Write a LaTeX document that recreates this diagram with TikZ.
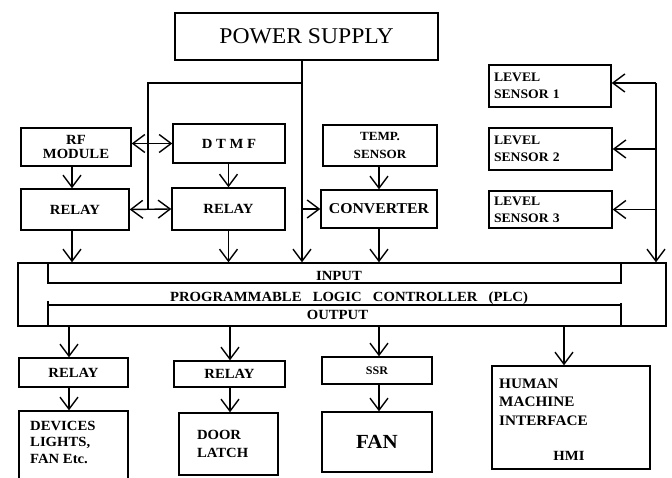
\documentclass[tikz,border=0pt]{standalone}
\usepackage{fontspec}
\setmainfont{Liberation Serif}[FakeStretch=1.05]
\usetikzlibrary{arrows.meta}
\newcommand{\fz}[2]{\fontsize{#1pt}{#2pt}\selectfont}
\newcommand{\wg}{\hspace{0.8em}}
\begin{document}
\begin{tikzpicture}[x=1pt,y=-1pt,
  box/.style={draw,line width=1.4pt,inner sep=0pt,align=center,font=\bfseries\fz{14}{14}},
  ln/.style={line width=1.4pt},
  arr/.style={ln,-{Straight Barb[length=12pt,width=18pt]}},
  dbl/.style={ln,{Straight Barb[length=12pt,width=18pt]}-{Straight Barb[length=12pt,width=18pt]}},
  txt/.style={inner sep=0pt,font=\bfseries\fz{14}{14}}]
\useasboundingbox (0,0) rectangle (672,478);
\fill[white] (0,0) rectangle (672,478);
% boxes
\node[box,minimum width=263pt,minimum height=47pt,font=\fz{22.5}{24}] (ps) at (306.5,36.5) {POWER SUPPLY};
\node[box,minimum width=110pt,minimum height=38pt] (rf) at (76,147) {RF\\MODULE};
\node[box,minimum width=112pt,minimum height=39pt] (dtmf) at (229,143.5) {D T M F};
\node[box,minimum width=108pt,minimum height=41pt] (r1) at (75,209.5) {RELAY};
\node[box,minimum width=113pt,minimum height=42pt] (r2) at (228.5,209) {RELAY};
\node[box,minimum width=114pt,minimum height=41pt,font=\bfseries\fz{12.5}{17.5}] (temp) at (380,145.5) {TEMP.\\SENSOR};
\node[box,minimum width=116pt,minimum height=38pt,font=\bfseries\fz{15}{15}] (conv) at (379,209) {CONVERTER};
\node[box,minimum width=122pt,minimum height=42pt,text width=112pt,align=left,font=\bfseries\fz{13}{17}] (ls1) at (550,86) {LEVEL\\SENSOR 1};
\node[box,minimum width=123pt,minimum height=42pt,text width=113pt,align=left,font=\bfseries\fz{13}{17}] (ls2) at (550.5,149) {LEVEL\\SENSOR 2};
\node[box,minimum width=123pt,minimum height=37pt,text width=113pt,align=left,font=\bfseries\fz{13}{17}] (ls3) at (550.5,209.5) {LEVEL\\SENSOR 3};
\node[box,minimum width=648pt,minimum height=63pt] (plc) at (342,294.5) {};
\node[box,minimum width=109pt,minimum height=29pt] (r3) at (73.5,372.5) {RELAY};
\node[box,minimum width=111pt,minimum height=26pt] (r4) at (229.5,374) {RELAY};
\node[box,minimum width=110pt,minimum height=27pt,font=\bfseries\fz{11.5}{13}] (ssr) at (377,370.5) {SSR};
\node[box,minimum width=109pt,minimum height=73pt] (dev) at (73.5,447.5) {};
\node[box,minimum width=99pt,minimum height=62pt,text width=63pt,align=left,font=\bfseries\fz{14}{18}] (door) at (228.5,444) {DOOR\\LATCH};
\node[box,minimum width=110pt,minimum height=60pt,font=\bfseries\fz{20}{22}] (fan) at (377,442) {FAN};
\node[box,minimum width=158pt,minimum height=103pt] (hmi) at (571,417.5) {};
% texts
\node[txt,anchor=west,align=left,font=\bfseries\fz{14}{16.5}] (devt) at (30,442) {DEVICES\\LIGHTS,\\FAN Etc.};
\node[txt,anchor=west,align=left,font=\bfseries\fz{14.5}{18.5}] (hmit) at (499,402) {HUMAN\\MACHINE\\INTERFACE};
\node[txt,font=\bfseries\fz{14}{16}] (hmil) at (569,456) {HMI};
\node[txt] (inp) at (339,276) {INPUT};
\node[txt] (plct) at (349,298) {PROGRAMMABLE\wg LOGIC\wg CONTROLLER\wg (PLC)};
\node[txt] (outp) at (337.5,315) {OUTPUT};
% PLC inner brackets
\draw[ln] (48,263) -- (48,283) -- (621,283) -- (621,263);
\draw[ln] (48,301) -- (48,327);
\draw[ln] (48,305) -- (621,305);
\draw[ln] (621,303) -- (621,327);
% coordinates
\coordinate (pv) at (302,83);
\coordinate (lt) at (148,83);
\coordinate (lv) at (656,83);
\coordinate (xa) at (72,0);
\coordinate (xo1) at (69,0);
\coordinate (xo2) at (230,0);
\coordinate (xo3) at (379,0);
\coordinate (xo4) at (564,0);
% power distribution
\draw[arr] (ps.south -| pv) -- (pv |- plc.north);
\draw[ln] (pv) -- (lt) -- (lt |- r1.east);
\draw[dbl] (dtmf.west -| rf.east) -- (dtmf.west);
\draw[dbl] (r1.east) -- (r2.west);
\draw[arr] (pv |- conv.west) -- (conv.west);
% input chain
\draw[arr] (rf.south -| xa) -- (xa |- r1.north);
\draw[arr] (dtmf.south -| r2.north) -- (r2.north);
\draw[arr] (temp.south -| xo3) -- (xo3 |- conv.north);
\draw[arr] (r1.south -| xa) -- (xa |- plc.north);
\draw[arr] (r2.south) -- (r2.south |- plc.north);
\draw[arr] (conv.south -| xo3) -- (xo3 |- plc.north);
% level sensors
\draw[arr] (lv) -- (lv |- plc.north);
\draw[arr] (lv) -- (lv -| ls1.east);
\draw[arr] (lv |- ls2.east) -- (ls2.east);
\draw[arr] (lv |- ls3.east) -- (ls3.east);
% outputs
\draw[arr] (plc.south -| xo1) -- (xo1 |- r3.north);
\draw[arr] (r3.south -| xo1) -- (xo1 |- dev.north);
\draw[arr] (plc.south -| xo2) -- (xo2 |- r4.north);
\draw[arr] (r4.south -| xo2) -- (xo2 |- door.north);
\draw[arr] (plc.south -| xo3) -- (xo3 |- ssr.north);
\draw[arr] (ssr.south -| xo3) -- (xo3 |- fan.north);
\draw[arr] (plc.south -| xo4) -- (xo4 |- hmi.north);
\end{tikzpicture}
\end{document}
